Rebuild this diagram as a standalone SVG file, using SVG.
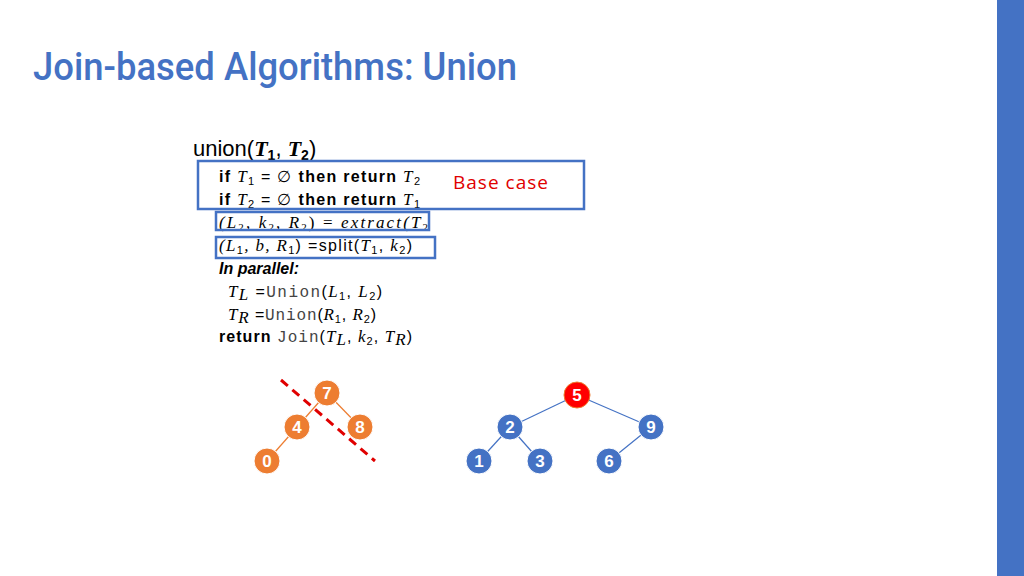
<svg xmlns="http://www.w3.org/2000/svg" width="1024" height="576" viewBox="0 0 1024 576">
<style>
.t{font-family:"Liberation Sans",Arial,sans-serif;font-size:16px;fill:#000}
.m{font-family:"Liberation Serif",serif;font-style:italic;font-size:17px}
.c{font-family:"Liberation Mono",monospace;font-size:16px;fill:#444}
.box{fill:none;stroke:#4472C4;stroke-width:2.5}
.o circle{fill:#ED7D31;stroke:#fff;stroke-width:1}
.b circle{fill:#4472C4;stroke:#fff;stroke-width:1}
.n text{font-family:"Liberation Sans",Arial,sans-serif;font-weight:bold;font-size:17px;fill:#fff;text-anchor:middle}
</style>
<rect width="1024" height="576" fill="#fff"/>
<rect x="997" y="0" width="27" height="576" fill="#4472C4"/>
<text x="33" y="80" font-family="Roboto,'Liberation Sans',sans-serif" font-weight="500" font-size="38" fill="#4472C4" textLength="484" lengthAdjust="spacingAndGlyphs">Join-based Algorithms: Union</text>
<text x="193" y="156" font-family="'Liberation Sans',sans-serif" font-size="22">union(<tspan font-family="'Liberation Serif',serif" font-style="italic" font-weight="bold">T</tspan><tspan font-size="14" dy="4" font-weight="bold">1</tspan><tspan dy="-4">, </tspan><tspan font-family="'Liberation Serif',serif" font-style="italic" font-weight="bold">T</tspan><tspan font-size="14" dy="4" font-weight="bold">2</tspan><tspan dy="-4">)</tspan></text>
<g id="code">
<text class="t" x="219" y="182" textLength="201"><tspan font-weight="bold">if </tspan><tspan class="m">T</tspan><tspan font-size="11" dy="3">1</tspan><tspan dy="-3"> = ∅ </tspan><tspan font-weight="bold">then return </tspan><tspan class="m">T</tspan><tspan font-size="11" dy="3">2</tspan></text>
<text class="t" x="219" y="205" textLength="201"><tspan font-weight="bold">if </tspan><tspan class="m">T</tspan><tspan font-size="11" dy="3">2</tspan><tspan dy="-3"> = ∅ </tspan><tspan font-weight="bold">then return </tspan><tspan class="m">T</tspan><tspan font-size="11" dy="3">1</tspan></text>
<text class="m" x="219" y="228" fill="#000" textLength="209">(L<tspan font-size="11" dy="3" font-style="normal">2</tspan><tspan dy="-3">, k</tspan><tspan font-size="11" dy="3" font-style="normal">2</tspan><tspan dy="-3">, R</tspan><tspan font-size="11" dy="3" font-style="normal">2</tspan><tspan dy="-3" font-style="normal">) = </tspan><tspan dy="0">extract(T</tspan><tspan font-size="11" dy="3" font-style="normal">2</tspan></text>
<text class="t" x="219" y="251" textLength="193"><tspan class="m">(L</tspan><tspan font-size="11" dy="3">1</tspan><tspan dy="-3" class="m">, b, R</tspan><tspan font-size="11" dy="3">1</tspan><tspan dy="-3">) =split(</tspan><tspan class="m">T</tspan><tspan font-size="11" dy="3">1</tspan><tspan dy="-3">, </tspan><tspan class="m">k</tspan><tspan font-size="11" dy="3">2</tspan><tspan dy="-3">)</tspan></text>
<text class="t" x="219" y="274" font-weight="bold" font-style="italic">In parallel:</text>
<text class="t" x="228" y="297" textLength="154"><tspan class="m">T</tspan><tspan font-size="11" dy="3" class="m">L</tspan><tspan dy="-3"> =</tspan><tspan class="c">Union</tspan><tspan>(</tspan><tspan class="m">L</tspan><tspan font-size="11" dy="3">1</tspan><tspan dy="-3">, </tspan><tspan class="m">L</tspan><tspan font-size="11" dy="3">2</tspan><tspan dy="-3">)</tspan></text>
<text class="t" x="228" y="320" textLength="148"><tspan class="m">T</tspan><tspan font-size="11" dy="3" class="m">R</tspan><tspan dy="-3"> =</tspan><tspan class="c">Union</tspan><tspan>(</tspan><tspan class="m">R</tspan><tspan font-size="11" dy="3">1</tspan><tspan dy="-3">, </tspan><tspan class="m">R</tspan><tspan font-size="11" dy="3">2</tspan><tspan dy="-3">)</tspan></text>
<text class="t" x="219" y="342" textLength="193"><tspan font-weight="bold">return </tspan><tspan class="c">Join</tspan><tspan>(</tspan><tspan class="m">T</tspan><tspan font-size="11" dy="3" class="m">L</tspan><tspan dy="-3">, </tspan><tspan class="m">k</tspan><tspan font-size="11" dy="3">2</tspan><tspan dy="-3">, </tspan><tspan class="m">T</tspan><tspan font-size="11" dy="3" class="m">R</tspan><tspan dy="-3">)</tspan></text>
</g>
<rect class="box" x="198" y="161" width="386" height="48"/>
<rect class="box" x="216" y="212" width="213" height="18"/>
<rect class="box" x="216" y="237" width="219" height="21"/>
<text x="453" y="189" font-family="'Open Sans','Liberation Sans',sans-serif" font-size="19" fill="#E00000" textLength="95">Base case</text>
<g id="connectors" stroke-width="1.2">
<g stroke="#ED7D31"><line x1="327" y1="393" x2="297" y2="427"/><line x1="327" y1="393" x2="360" y2="427"/><line x1="297" y1="427" x2="267" y2="461"/></g>
<g stroke="#4472C4"><line x1="577" y1="395" x2="510" y2="427"/><line x1="577" y1="395" x2="651" y2="427"/><line x1="510" y1="427" x2="479" y2="461"/><line x1="510" y1="427" x2="540" y2="461"/><line x1="651" y1="427" x2="609" y2="461"/></g>
<line x1="281" y1="380" x2="375" y2="461" stroke="#E00000" stroke-width="3" stroke-dasharray="9,6"/>
</g>
<g id="n7" class="n o"><circle cx="327" cy="393" r="13"/><text x="327" y="399">7</text></g>
<g id="n4" class="n o"><circle cx="297" cy="427" r="13"/><text x="297" y="433">4</text></g>
<g id="n8" class="n o"><circle cx="360" cy="427" r="13"/><text x="360" y="433">8</text></g>
<g id="n0" class="n o"><circle cx="267" cy="461" r="13"/><text x="267" y="467">0</text></g>
<g id="n5" class="n"><circle cx="577" cy="395" r="13" fill="#FF0000" stroke="#ED7D31" stroke-width="1"/><text x="577" y="401">5</text></g>
<g id="n2" class="n b"><circle cx="510" cy="427" r="13"/><text x="510" y="433">2</text></g>
<g id="n9" class="n b"><circle cx="651" cy="427" r="13"/><text x="651" y="433">9</text></g>
<g id="n1" class="n b"><circle cx="479" cy="461" r="13"/><text x="479" y="467">1</text></g>
<g id="n3" class="n b"><circle cx="540" cy="461" r="13"/><text x="540" y="467">3</text></g>
<g id="n6" class="n b"><circle cx="609" cy="461" r="13"/><text x="609" y="467">6</text></g>
</svg>
